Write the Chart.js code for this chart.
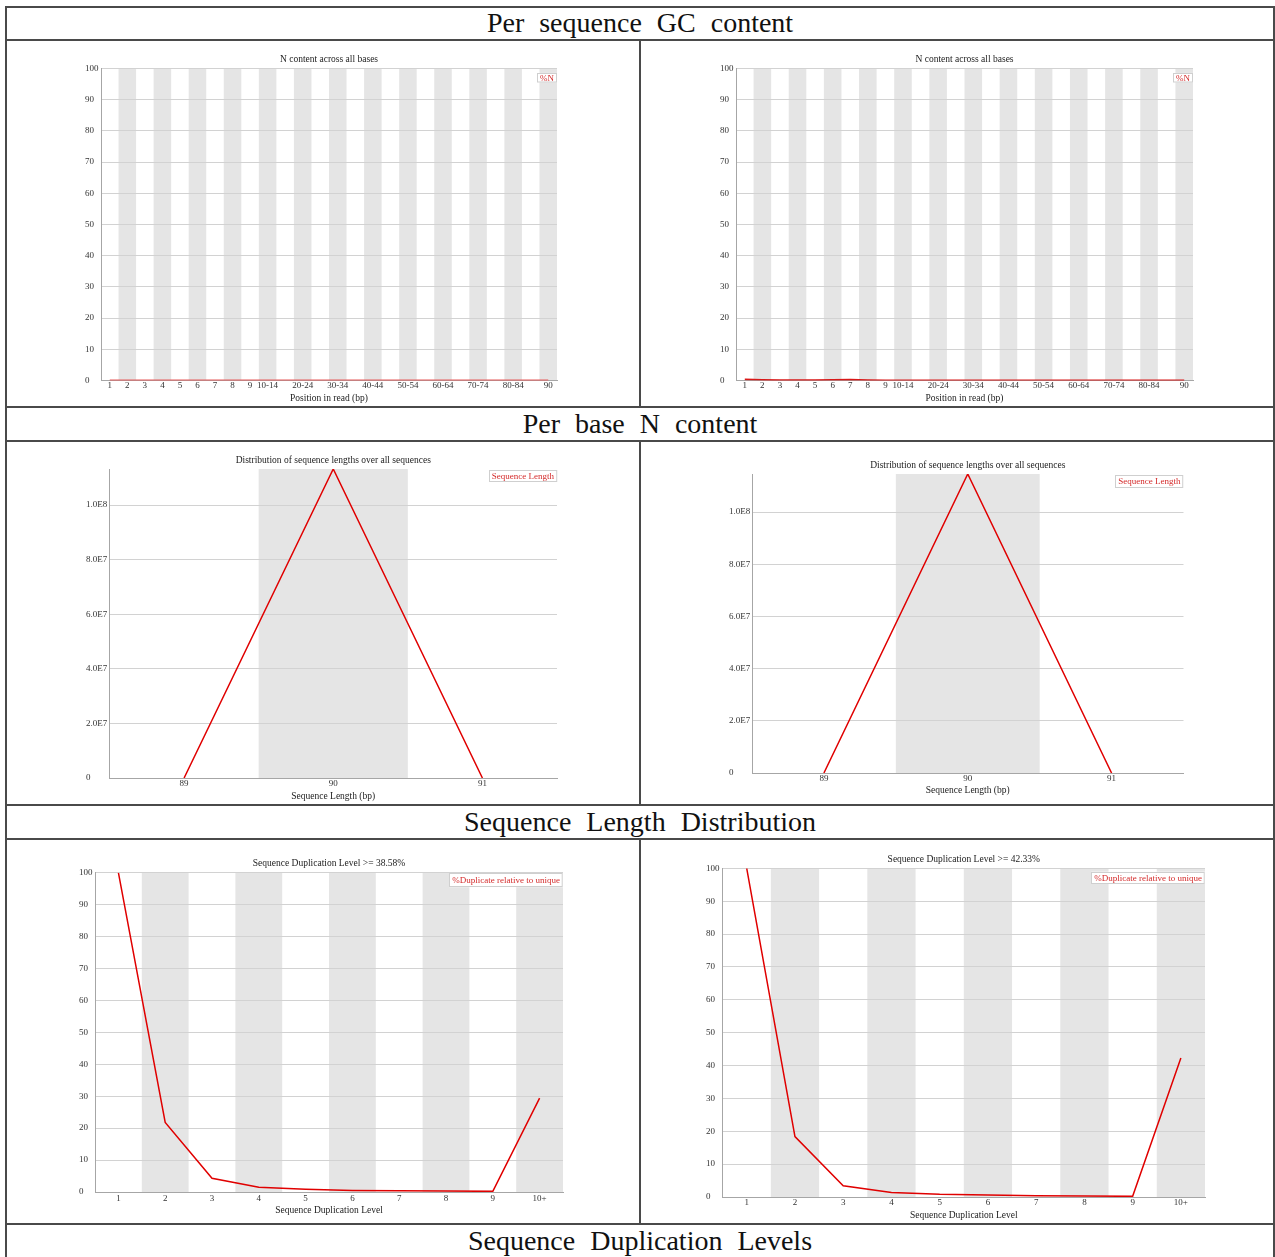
<!DOCTYPE html>
<html>
<head>
<meta charset="utf-8">
<script src="https://cdn.jsdelivr.net/npm/chart.js@4.4.1/dist/chart.umd.min.js"></script>
<style>
  html, body { margin: 0; padding: 0; background: #fff; width: 1275px; height: 1257px; overflow: hidden; }
  .hl { position: absolute; height: 2px; background: #4a4a4a; }
  .vl { position: absolute; width: 2px; background: #4a4a4a; }
  .hdr { position: absolute; left: 7px; width: 1266px; height: 33px; line-height: 33px; text-align: center;
         font-family: "Liberation Serif", serif; font-size: 28px; word-spacing: 8px; color: #111; }
  .cell { position: absolute; }
</style>
</head>
<body>
<!-- table frame -->
<div class="vl" style="left:5px; top:6px; height:1260px;"></div>
<div class="vl" style="left:1273px; top:6px; height:1260px;"></div>
<div class="hl" style="left:5px; top:6px; width:1270px;"></div>
<div class="hl" style="left:5px; top:39px; width:1270px;"></div>
<div class="hl" style="left:5px; top:406px; width:1270px;"></div>
<div class="hl" style="left:5px; top:440px; width:1270px;"></div>
<div class="hl" style="left:5px; top:804px; width:1270px;"></div>
<div class="hl" style="left:5px; top:838px; width:1270px;"></div>
<div class="hl" style="left:5px; top:1223px; width:1270px;"></div>
<div class="vl" style="left:639px; top:40px; height:367px; width:1.5px;"></div>
<div class="vl" style="left:639px; top:441px; height:364px; width:1.5px;"></div>
<div class="vl" style="left:639px; top:839px; height:385px; width:1.5px;"></div>

<div class="hdr" style="top:6px;">Per sequence GC content</div>
<div class="hdr" style="top:407px;">Per base N content</div>
<div class="hdr" style="top:805px;">Sequence Length Distribution</div>
<div class="hdr" style="top:1224px;">Sequence Duplication Levels</div>

<div class="cell" style="left:7px; top:41px;"><canvas id="c1" width="632" height="365"></canvas></div>
<div class="cell" style="left:641px; top:41px;"><canvas id="c2" width="632" height="365"></canvas></div>
<div class="cell" style="left:7px; top:442px;"><canvas id="c3" width="632" height="362"></canvas></div>
<div class="cell" style="left:641px; top:442px;"><canvas id="c4" width="632" height="362"></canvas></div>
<div class="cell" style="left:7px; top:840px;"><canvas id="c5" width="632" height="383"></canvas></div>
<div class="cell" style="left:641px; top:840px;"><canvas id="c6" width="632" height="383"></canvas></div>

<script>
// ---- data ----
const positionLabels = ['1', '2', '3', '4', '5', '6', '7', '8', '9', '10-14', '15-19', '20-24', '25-29',
  '30-34', '35-39', '40-44', '45-49', '50-54', '55-59', '60-64', '65-69', '70-74', '75-79', '80-84', '85-89', '90'];
const nContentLeft = [0, 0, 0, 0, 0, 0, 0, 0, 0, 0, 0, 0, 0, 0, 0, 0, 0, 0, 0, 0, 0, 0, 0, 0, 0, 0];
const nContentRight = [0.35, 0.2, 0.1, 0.1, 0.1, 0.2, 0.3, 0.15, 0.05, 0.05, 0.05, 0.05, 0.05,
  0.05, 0.05, 0.05, 0.05, 0.05, 0.05, 0.05, 0.05, 0.05, 0.05, 0.05, 0.05, 0.05];
const percentTicks = [0, 10, 20, 30, 40, 50, 60, 70, 80, 90, 100];

const lengthLabels = ['89', '90', '91'];
const lengthLeft = [0, 113200000, 0];
const lengthRight = [0, 114600000, 0];
const lengthTicks = [0, 20000000, 40000000, 60000000, 80000000, 100000000];

const dupLabels = ['1', '2', '3', '4', '5', '6', '7', '8', '9', '10+'];
const dupLeft = [100, 21.8, 4.3, 1.5, 0.9, 0.5, 0.4, 0.3, 0.2, 29.4];
const dupRight = [100, 18.4, 3.4, 1.4, 0.8, 0.6, 0.4, 0.3, 0.2, 42.3];

const serif = '"Liberation Serif", "DejaVu Serif", serif';

// grey stripes behind every other category
const bandPlugin = {
  id: 'bands',
  beforeDraw(chart) {
    const { ctx, chartArea, scales: { x } } = chart;
    const n = chart.data.labels.length;
    const w = x.getPixelForValue(1) - x.getPixelForValue(0);
    ctx.save();
    ctx.fillStyle = '#e5e5e5';
    for (let i = 1; i < n; i += 2) {
      const c = x.getPixelForValue(i);
      ctx.fillRect(c - w / 2, chartArea.top, w, chartArea.bottom - chartArea.top);
    }
    ctx.restore();
  }
};

// small boxed legend in the top right corner of the plot
const legendBoxPlugin = {
  id: 'legendBox',
  afterDatasetsDraw(chart, args, opts) {
    const { ctx, chartArea } = chart;
    const label = chart.data.datasets[0].label;
    ctx.save();
    ctx.font = '9px ' + serif;
    const w = ctx.measureText(label).width + 6;
    const h = opts.h || 12;
    const x0 = chartArea.right - w;
    const y0 = chartArea.top + (opts.dy || 0);
    ctx.fillStyle = '#fff';
    ctx.fillRect(x0, y0, w, h);
    ctx.strokeStyle = '#cfcfcf';
    ctx.lineWidth = 1;
    ctx.strokeRect(Math.round(x0) + 0.5, Math.round(y0) + 0.5, w - 1, h - 1);
    ctx.fillStyle = '#d42a2a';
    ctx.textBaseline = 'middle';
    ctx.fillText(label, x0 + 3, y0 + h / 2 + 0.5);
    ctx.restore();
  }
};

function makeChart(id, cfg) {
  const lay = cfg.lay;
  const tSize = 9.5, kSize = 9;
  const cy = lay.cy, cx = lay.cx;
  const yW = lay.L - lay.labelLeft;
  const x2H = lay.T - cy;
  const xH = cy + lay.ch - lay.B;

  return new Chart(document.getElementById(id), {
    type: 'line',
    data: {
      labels: cfg.labels,
      datasets: [{
        label: cfg.legend,
        data: cfg.values,
        borderColor: cfg.color || '#e00000',
        borderWidth: cfg.lineWidth || 1.5,
        pointRadius: 0,
        fill: false,
        tension: 0
      }]
    },
    options: {
      responsive: false,
      animation: false,
      layout: { padding: { left: lay.labelLeft - cx, right: cx + lay.cw - lay.R, top: 0, bottom: 0 } },
      plugins: {
        legend: { display: false },
        title: { display: false },
        tooltip: { enabled: false },
        legendBox: { dy: lay.legDy, h: lay.legH }
      },
      scales: {
        x: {
          type: 'category',
          offset: true,
          grid: { display: false, drawTicks: false },
          border: { display: true, color: '#a6a6a6', width: 1 },
          ticks: {
            autoSkip: false, maxRotation: 0, minRotation: 0,
            padding: lay.tickY - lay.B - kSize * 0.6,
            color: '#333', font: { family: serif, size: kSize },
            callback: cfg.xTick || function (v) { return this.getLabelForValue(v); }
          },
          title: {
            display: true, text: cfg.xTitle, color: '#222',
            font: { family: serif, size: tSize },
            padding: { top: 0, bottom: cy + lay.ch - lay.xTitleY - tSize * 0.6 }
          },
          afterFit(s) { s.height = xH; }
        },
        x2: {
          type: 'category',
          position: 'top',
          offset: true,
          grid: { display: false, drawTicks: false },
          border: { display: false },
          ticks: { display: false },
          title: {
            display: true, text: cfg.title, color: '#222',
            font: { family: serif, size: tSize },
            padding: { top: lay.titleY - cy - tSize * 0.6, bottom: 0 }
          },
          afterFit(s) { s.height = x2H; }
        },
        y: {
          min: 0,
          max: cfg.yMax,
          grid: { color: '#d2d2d2', lineWidth: 1, drawTicks: false },
          border: { display: true, color: '#a6a6a6', width: 1 },
          ticks: {
            crossAlign: 'far', padding: 0,
            color: '#333', font: { family: serif, size: kSize },
            callback: cfg.yFmt || (v => String(v))
          },
          afterBuildTicks(s) { s.ticks = cfg.yTicks.map(v => ({ value: v })); },
          afterFit(s) { s.width = yW; }
        }
      }
    },
    plugins: [bandPlugin, legendBoxPlugin]
  });
}

const posTick = function (v, i) { return (i <= 9 || i % 2 === 1) ? positionLabels[i] : ''; };
const expFmt = v => v === 0 ? '0' : v.toExponential(1).replace('e+', 'E');

makeChart('c1', {
  labels: positionLabels, values: nContentLeft, legend: '%N',
  title: 'N content across all bases', xTitle: 'Position in read (bp)',
  yMax: 100, yTicks: percentTicks, xTick: posTick, color: '#e65a5a', lineWidth: 2.2,
  lay: { cx: 7, cy: 41, cw: 632, ch: 365, L: 101, R: 557, T: 68.5, B: 380.5,
         labelLeft: 85, titleY: 59, tickY: 386, xTitleY: 398, legDy: 4.4, legH: 9.5 }
});
makeChart('c2', {
  labels: positionLabels, values: nContentRight, legend: '%N',
  title: 'N content across all bases', xTitle: 'Position in read (bp)',
  yMax: 100, yTicks: percentTicks, xTick: posTick, color: '#d81818', lineWidth: 1.8,
  lay: { cx: 641, cy: 41, cw: 632, ch: 365, L: 736, R: 1193, T: 68.5, B: 380.5,
         labelLeft: 720, titleY: 59, tickY: 386, xTitleY: 398, legDy: 4.4, legH: 9.5 }
});
makeChart('c3', {
  labels: lengthLabels, values: lengthLeft, legend: 'Sequence Length',
  title: 'Distribution of sequence lengths over all sequences', xTitle: 'Sequence Length (bp)',
  yMax: Math.max(...lengthLeft), yTicks: lengthTicks, yFmt: expFmt,
  lay: { cx: 7, cy: 442, cw: 632, ch: 362, L: 109.5, R: 557, T: 469, B: 778,
         labelLeft: 86, titleY: 460, tickY: 784, xTitleY: 796, legDy: 1, legH: 12 }
});
makeChart('c4', {
  labels: lengthLabels, values: lengthRight, legend: 'Sequence Length',
  title: 'Distribution of sequence lengths over all sequences', xTitle: 'Sequence Length (bp)',
  yMax: Math.max(...lengthRight), yTicks: lengthTicks, yFmt: expFmt,
  lay: { cx: 641, cy: 442, cw: 632, ch: 362, L: 752, R: 1183.5, T: 474, B: 773,
         labelLeft: 729, titleY: 465.7, tickY: 779, xTitleY: 790, legDy: 1, legH: 13 }
});
makeChart('c5', {
  labels: dupLabels, values: dupLeft, legend: '%Duplicate relative to unique',
  title: 'Sequence Duplication Level >= 38.58%', xTitle: 'Sequence Duplication Level',
  yMax: 100, yTicks: percentTicks,
  lay: { cx: 7, cy: 840, cw: 632, ch: 383, L: 95, R: 563, T: 872.7, B: 1192,
         labelLeft: 79, titleY: 863.7, tickY: 1198.7, xTitleY: 1210.7, legDy: 0.5, legH: 14 }
});
makeChart('c6', {
  labels: dupLabels, values: dupRight, legend: '%Duplicate relative to unique',
  title: 'Sequence Duplication Level >= 42.33%', xTitle: 'Sequence Duplication Level',
  yMax: 100, yTicks: percentTicks,
  lay: { cx: 641, cy: 840, cw: 632, ch: 383, L: 722.6, R: 1205, T: 868.3, B: 1197,
         labelLeft: 706, titleY: 859, tickY: 1203, xTitleY: 1215.7, legDy: 3.4, legH: 12 }
});
</script>
</body>
</html>
